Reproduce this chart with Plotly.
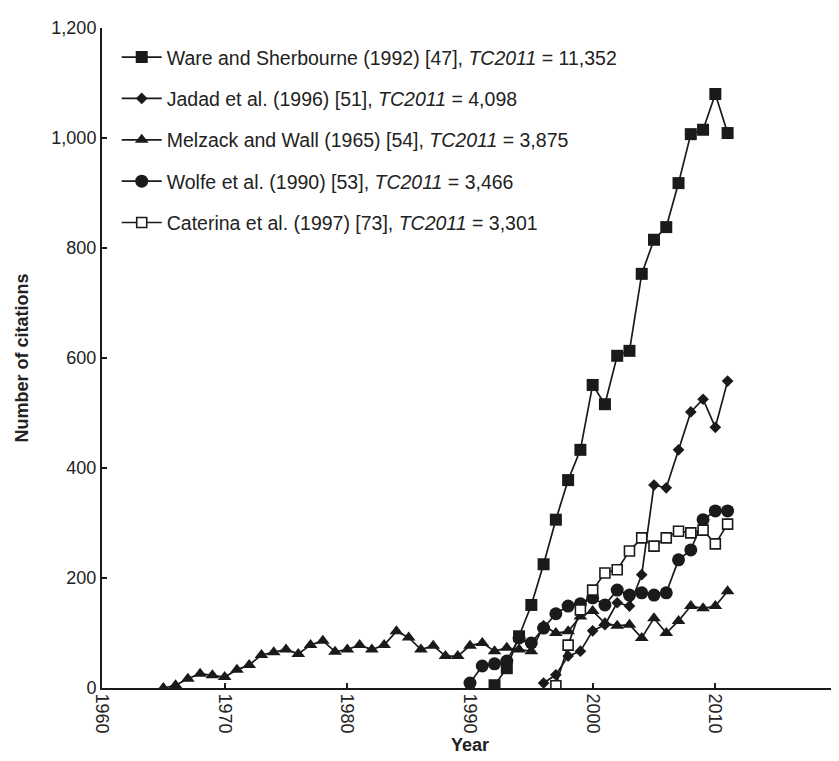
import plotly.graph_objects as go

# ---- data ----
ware_years = list(range(1992, 2012))
ware_vals = [5, 36, 94, 151, 225, 306, 378, 433, 551, 516, 604, 613, 753, 815, 838, 918, 1007, 1015, 1080, 1009]

jadad_years = list(range(1996, 2012))
jadad_vals = [9, 24, 58, 67, 104, 115, 155, 149, 206, 369, 364, 433, 502, 525, 474, 558]

melzack_years = list(range(1965, 2012))
melzack_vals = [0, 5, 17, 26, 23, 20, 33, 42, 60, 65, 70, 62, 78, 86, 66,
                70, 78, 70, 78, 103, 92, 70, 77, 58, 58,
                77, 82, 67, 73, 70, 67, 113, 100, 103, 130,
                140, 118, 113, 115, 91, 127, 100, 122, 149, 145, 149, 176]

wolfe_years = list(range(1990, 2012))
wolfe_vals = [9, 40, 44, 49, 91, 82, 109, 135, 149, 153,
              164, 151, 178, 169, 173, 169, 173, 233, 251, 306, 322, 322]

caterina_years = list(range(1997, 2012))
caterina_vals = [4, 78, 142, 178, 209, 215, 249, 273, 258, 273, 285, 282, 287, 262, 298]

names = [
    "Ware and Sherbourne (1992) [47], <i>TC2011</i> = 11,352",
    "Jadad et al. (1996) [51], <i>TC2011</i> = 4,098",
    "Melzack and Wall (1965) [54], <i>TC2011</i> = 3,875",
    "Wolfe et al. (1990) [53], <i>TC2011</i> = 3,466",
    "Caterina et al. (1997) [73], <i>TC2011</i> = 3,301",
]

x_ticks = [1960, 1970, 1980, 1990, 2000, 2010, 2020]
y_ticks = [0, 200, 400, 600, 800, 1000, 1200]
y_tick_labels = ["0", "200", "400", "600", "800", "1,000", "1,200"]

# ---- figure ----
FONT = "Liberation Sans, Arial, sans-serif"
INK = "#1a1a1a"
series = [
    (ware_years, ware_vals, "square", 12),
    (jadad_years, jadad_vals, "diamond", 9),
    (melzack_years, melzack_vals, "triangle-up", 12),
    (wolfe_years, wolfe_vals, "circle", 13),
    (caterina_years, caterina_vals, "square-open", 10),
]

fig = go.Figure()
for i, (xs, ys, sym, size) in enumerate(series):
    if sym == "square-open":
        marker = dict(symbol="square", size=size, color="white",
                      line=dict(color=INK, width=1.6))
    else:
        marker = dict(symbol=sym, size=size, color=INK)
    fig.add_trace(go.Scatter(
        x=xs, y=ys, mode="lines+markers", name=names[i],
        line=dict(color=INK, width=1.7), marker=marker,
        legendgroup=f"g{i}",
    ))

fig.update_layout(
    width=839, height=761,
    margin=dict(l=94, r=9, t=20, b=81),
    paper_bgcolor="white", plot_bgcolor="white",
    font=dict(family=FONT, size=17, color="#222222"),
    showlegend=True,
    legend=dict(
        x=0.02, y=0.985, xanchor="left", yanchor="top",
        bgcolor="rgba(0,0,0,0)", borderwidth=0,
        font=dict(family=FONT, size=19.5, color="#222222"),
        tracegroupgap=13, itemwidth=40,
    ),
    xaxis=dict(
        range=[1960, 2020], tickmode="array", tickvals=x_ticks,
        ticktext=[str(v) for v in x_ticks], tickangle=90,
        tickfont=dict(size=18),
        ticks="inside", ticklen=5, tickcolor=INK, tickwidth=1.5,
        showline=True, linecolor=INK, linewidth=2,
        showgrid=False, zeroline=False,
        title=dict(text="<b>Year</b>", font=dict(size=18, family=FONT, color="#222222"), standoff=6),
    ),
    yaxis=dict(
        range=[0, 1200], tickmode="array", tickvals=y_ticks, ticktext=y_tick_labels,
        tickfont=dict(size=18),
        ticks="inside", ticklen=5, tickcolor=INK, tickwidth=1.5,
        showline=True, linecolor=INK, linewidth=2,
        showgrid=False, zeroline=False,
        title=dict(text="<b>Number of citations</b>", font=dict(size=18, family=FONT, color="#222222"), standoff=18),
    ),
    shapes=[dict(type="line", xref="paper", yref="paper", x0=1, x1=1, y0=0, y1=1,
                 line=dict(color="#777777", width=1))],
)

fig.write_html("out.html")
